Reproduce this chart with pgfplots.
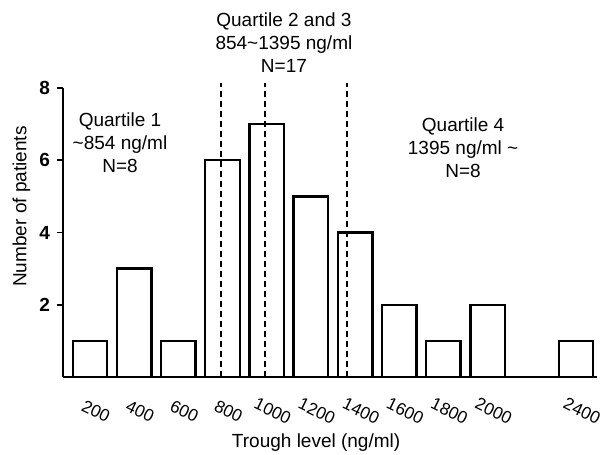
\documentclass[border=0pt]{standalone}
\usepackage{fontspec}
\setmainfont{Liberation Sans}
\usepackage{pgfplots}
\pgfplotsset{compat=1.18}
\usetikzlibrary{calc}
\newcommand{\lbl}{\fontsize{9.5}{11.5}\selectfont}
\begin{document}
\begin{tikzpicture}
  \begin{axis}[
    name=ax,
    scale only axis,
    width=267pt, height=144.5pt,
    xmin=78, xmax=2495,
    ymin=0, ymax=8,
    axis lines=left,
    axis line style={line width=1pt, -},
    clip=false,
    scaled x ticks=false,
    xtick={200,400,600,800,1000,1200,1400,1600,1800,2000,2400},
    xticklabels={200,400,600,800,1000,1200,1400,1600,1800,2000,2400},
    x tick style={draw=none},
    xticklabel style={font=\fontsize{8.6}{10}\selectfont, anchor=center, inner sep=0pt,
      xshift=3pt, yshift=-14pt, rotate=-26},
    ytick={2,4,6,8},
    yticklabels={2,4,6,8},
    y tick style={line width=0.8pt, black},
    tick align=outside,
    major tick length=3pt,
    yticklabel style={font=\lbl\bfseries},
    xlabel={Trough level (ng/ml)},
    xlabel style={font=\lbl, at={(axis description cs:0.474,-0.228)}, anchor=center},
    ylabel={Number of patients},
    ylabel style={font=\lbl, at={(axis description cs:-0.078,0.59)}, anchor=center},
  ]
    % histogram counts
    \addplot[ybar, bar width=156, draw=black, fill=white, line width=1.2pt]
      coordinates {
        (200,1) (400,3) (600,1) (800,6) (1000,7) (1200,5)
        (1400,4) (1600,2) (1800,1) (2000,2) (2400,1)
      };
    % quartile boundaries
    \addplot[black, line width=0.75pt, dash pattern=on 3pt off 2pt]
      coordinates {(793,0) (793,8.14)};
    \addplot[black, line width=0.75pt, dash pattern=on 3pt off 2pt]
      coordinates {(992,0) (992,8.14)};
    \addplot[black, line width=0.75pt, dash pattern=on 3pt off 2pt]
      coordinates {(1363,0) (1363,8.14)};
    \node[font=\lbl, align=center] at (axis cs:336,6.48)
      {Quartile 1\\\textasciitilde 854 ng/ml\\N=8};
    \node[font=\lbl, align=center] at (axis cs:1078,9.25)
      {Quartile 2 and 3\\854\textasciitilde 1395 ng/ml\\N=17};
    \node[font=\lbl, align=center] at (axis cs:1889,6.34)
      {Quartile 4\\1395 ng/ml \textasciitilde\\N=8};
  \end{axis}
  \pgfresetboundingbox
  \path[use as bounding box] ($(ax.south west)+(-31.5pt,-38.5pt)$)
    rectangle ($(ax.south west)+(272.5pt,188.5pt)$);
\end{tikzpicture}
\end{document}
